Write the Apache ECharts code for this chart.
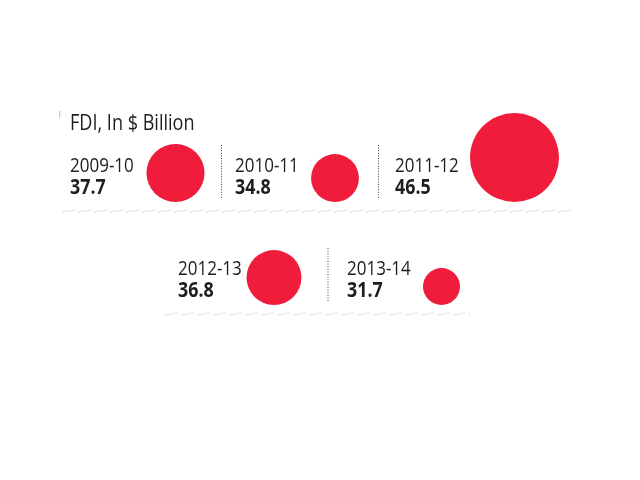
<!DOCTYPE html>
<html>
<head>
<meta charset="utf-8">
<style>html,body{margin:0;padding:0;background:#fff}#c{width:640px;height:480px}</style>
<script src="https://cdn.jsdelivr.net/npm/echarts@6/dist/echarts.min.js"></script>
</head>
<body>
<div id="c"></div>
<script>
// ---- data ----
const years = ['2009-10', '2010-11', '2011-12', '2012-13', '2013-14'];
const fdi = [37.7, 34.8, 46.5, 36.8, 31.7];
const titleText = 'FDI, In $ Billion';

// ---- layout (pixel positions of slots, not data) ----
const rowOf = [0, 0, 0, 1, 1];
const bubbleX = [175.5, 335, 514.5, 274, 441.5];
const labelX = [70, 235, 395, 178, 347];
const rowBase = [202, 305];
const sepX = [221.5, 378.5, 328];
const sepRow = [0, 0, 1];
const ruleSpan = [[62, 572], [165, 470]];
const sizeRange = [37, 89];

const FONT = "'Open Sans', 'Liberation Sans', sans-serif";
const RED = '#ef1c3b';
const INK = '#1e1e1e';
const SX = 0.85;

const vMin = Math.min(...fdi), vMax = Math.max(...fdi);
function diam(v) { return sizeRange[0] + (v - vMin) / (vMax - vMin) * (sizeRange[1] - sizeRange[0]); }

const bubbleData = fdi.map((v, i) => ({ value: [bubbleX[i], rowBase[rowOf[i]] - diam(v) / 2, v], symbolSize: diam(v) }));
const labelData = fdi.map((v, i) => [labelX[i], rowBase[rowOf[i]], v, i]);

const graphics = [];
graphics.push({ type: 'text', x: 70, y: 124, scaleX: 0.86, style: { text: titleText, font: '21px ' + FONT, fill: INK, verticalAlign: 'middle', align: 'left' } });
graphics.push({ type: 'line', shape: { x1: 60, y1: 111, x2: 59.5, y2: 117 }, style: { stroke: '#bbb', lineWidth: 1 } });
sepX.forEach((x, k) => {
  const b = rowBase[sepRow[k]];
  graphics.push({ type: 'line', shape: { x1: x, y1: b - 57, x2: x, y2: b - 3 }, style: { stroke: '#444', lineWidth: 1, lineDash: [1, 1.6] } });
});
ruleSpan.forEach((s, r) => {
  const y = rowBase[r] + 9;
  for (let x = s[0]; x < s[1]; x += 16) {
    graphics.push({ type: 'line', shape: { x1: x, y1: y + 1, x2: Math.min(x + 13, s[1]), y2: y - 1 }, style: { stroke: '#eeeeee', lineWidth: 2 } });
  }
});

const chart = echarts.init(document.getElementById('c'));
chart.setOption({
  animation: false,
  grid: { left: 0, right: 0, top: 0, bottom: 0 },
  xAxis: { type: 'value', min: 0, max: 640, show: false },
  yAxis: { type: 'value', min: 0, max: 480, inverse: true, show: false },
  graphic: graphics,
  series: [
    {
      type: 'scatter',
      data: bubbleData,
      itemStyle: { color: RED, opacity: 1 },
      silent: true
    },
    {
      type: 'custom',
      data: labelData,
      silent: true,
      renderItem: function (params, api) {
        const p = api.coord([api.value(0), api.value(1)]);
        const i = api.value(3);
        return {
          type: 'group',
          children: [
            { type: 'text', x: p[0], y: p[1] - 35.5, scaleX: SX, style: { text: years[i], font: '20px ' + FONT, fill: INK, verticalAlign: 'middle', align: 'left' } },
            { type: 'text', x: p[0], y: p[1] - 13.5, scaleX: SX, style: { text: api.value(2).toFixed(1), font: 'bold 21px ' + FONT, fill: INK, verticalAlign: 'middle', align: 'left' } }
          ]
        };
      }
    }
  ]
});
</script>
</body>
</html>
